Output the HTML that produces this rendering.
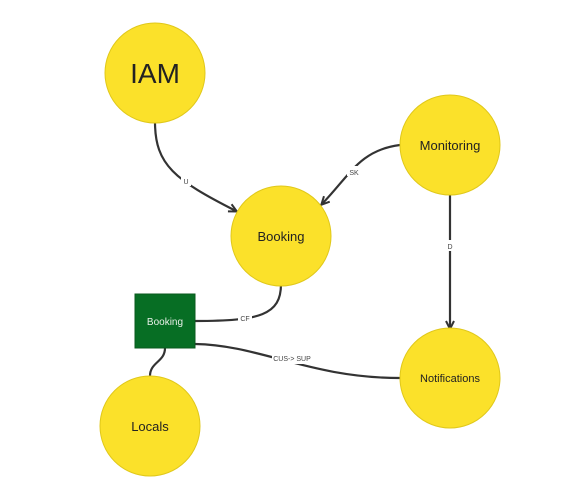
<!DOCTYPE html>
<html><head><style>
html,body{margin:0;padding:0;background:#fff;}
svg{display:block;font-family:"Liberation Sans","DejaVu Sans",sans-serif;}
</style></head><body>
<svg width="567" height="481" viewBox="0 0 567 481" xmlns="http://www.w3.org/2000/svg">
<defs>
<marker id="a" markerWidth="10" markerHeight="10" refX="8" refY="5" orient="auto" markerUnits="userSpaceOnUse">
<path d="M1,1 L9,5 L1,9" fill="none" stroke="#333" stroke-width="2"/>
</marker>
</defs>
<g fill="none" stroke="#333" stroke-width="2.2">
<path d="M155,122 C155,165 175,180 236,211" marker-end="url(#a)"/>
<path d="M400,145 C360,150 350,175 322,204" marker-end="url(#a)"/>
<path d="M450,195 L450,328" marker-end="url(#a)"/>
<path d="M281,284 C281,315 260,321 195,321"/>
<path d="M195,344 C260,345 310,378 400,378"/>
<path d="M165,348 C165,362 150,362 150,376"/>
</g>
<g fill="#fff" stroke="none">
<rect x="181" y="176" width="10" height="10"/>
<rect x="347" y="166" width="14" height="10"/>
<rect x="445" y="240" width="10" height="11"/>
<rect x="238" y="313" width="14" height="10"/>
<rect x="272" y="353" width="40" height="11"/>
</g>
<g font-size="7" fill="#444" text-anchor="middle">
<text x="186" y="184">U</text>
<text x="354" y="175">SK</text>
<text x="450" y="249">D</text>
<text x="245" y="321">CF</text>
<text x="292" y="361">CUS-&gt; SUP</text>
</g>
<g fill="#fbe12a" stroke="#e0c81a" stroke-width="1">
<circle cx="155" cy="73" r="50"/>
<circle cx="450" cy="145" r="50"/>
<circle cx="281" cy="236" r="50"/>
<circle cx="450" cy="378" r="50"/>
<circle cx="150" cy="426" r="50"/>
</g>
<rect x="135" y="294" width="60" height="54" fill="#076e24" stroke="#0a5a1e"/>
<g fill="#222" text-anchor="middle">
<text x="155" y="83" font-size="28">IAM</text>
<text x="450" y="150" font-size="13">Monitoring</text>
<text x="281" y="241" font-size="13">Booking</text>
<text x="450" y="382" font-size="11">Notifications</text>
<text x="150" y="431" font-size="13">Locals</text>
<text x="165" y="325" font-size="10" fill="#e8f0e8">Booking</text>
</g>
</svg>
</body></html>
